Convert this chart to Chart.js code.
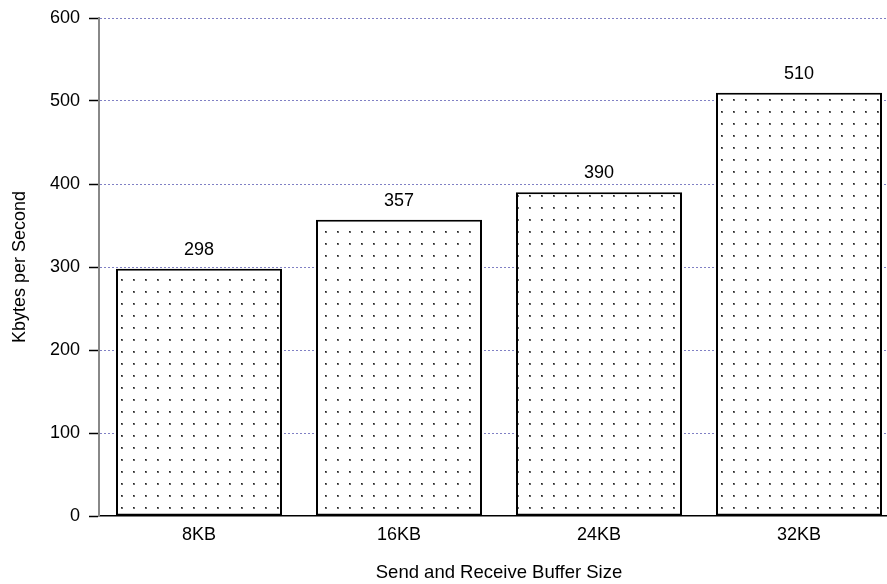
<!DOCTYPE html>
<html>
<head>
<meta charset="utf-8">
<script src="https://cdn.jsdelivr.net/npm/chart.js@4"></script>
<style>
  html,body{margin:0;padding:0;background:#fff;overflow:hidden}
  #wrap{width:887px;height:584px;overflow:hidden}
</style>
</head>
<body>
<div id="wrap"><canvas id="chart" width="900" height="584"></canvas></div>
<script>
/* ── Data ── */
const categories = ['8KB','16KB','24KB','32KB'];
const kbytesPerSec = [298,357,390,510];
const yTicks = [0,100,200,300,400,500,600];

const FONT = 'Arial, "Liberation Sans", sans-serif';

/* dotted fill like the old Excel pattern */
function dotPattern() {
  const c = document.createElement('canvas');
  c.width = 12; c.height = 12;
  const g = c.getContext('2d');
  g.fillStyle = '#fff'; g.fillRect(0,0,12,12);
  g.fillStyle = '#222'; g.fillRect(1,3,1,1);
  g.fillStyle = '#666'; g.fillRect(1,4,1,1); g.fillRect(2,3,1,2);
  return g.createPattern(c,'repeat');
}

/* value labels above each bar */
const valueLabels = {
  id:'valueLabels',
  afterDatasetsDraw(chart) {
    const ctx = chart.ctx, meta = chart.getDatasetMeta(0);
    ctx.save();
    ctx.font = '18px ' + FONT;
    ctx.fillStyle = '#000';
    ctx.textAlign = 'center';
    ctx.textBaseline = 'middle';
    meta.data.forEach((bar,i)=>ctx.fillText(String(kbytesPerSec[i]), bar.x, bar.y-19));
    ctx.restore();
  }
};

new Chart(document.getElementById('chart'), {
  type:'bar',
  data:{ labels:categories, datasets:[{
    data:kbytesPerSec,
    backgroundColor:dotPattern(),
    borderColor:'#000', borderWidth:2, borderSkipped:false,
    barPercentage:0.83, categoryPercentage:1
  }]},
  options:{
    responsive:false, animation:false,
    layout:{ padding:{ top:13, right:1, left:0, bottom:0 } },
    plugins:{ legend:{display:false}, tooltip:{enabled:false} },
    scales:{
      x:{
        grid:{ display:false },
        border:{ display:true, color:'#000', width:1.5 },
        ticks:{ color:'#000', font:{ family:FONT, size:18 }, padding:0 },
        title:{ display:true, text:'Send and Receive Buffer Size', color:'#000',
                font:{ family:FONT, size:18.5 }, padding:{ top:4, bottom:0 } },
        afterFit(s){ s.height = 68; }
      },
      y:{
        min:0, max:600,
        afterBuildTicks(s){ s.ticks = yTicks.map(v=>({value:v})); },
        grid:{ color:ctx=>ctx.tick && ctx.tick.value===0 ? 'rgba(0,0,0,0)' : '#8080c4',
               lineWidth:1, tickColor:'#000', tickLength:10, tickWidth:1.5, tickBorderDash:[] },
        border:{ display:true, color:'#888', width:2, dash:[2,2] },
        ticks:{ color:'#000', font:{ family:FONT, size:18, lineHeight:1 }, padding:9 },
        title:{ display:true, text:'Kbytes per Second', color:'#000',
                font:{ family:FONT, size:18 }, padding:{ top:9, bottom:0 } },
        afterFit(s){ s.width = 99; }
      }
    }
  },
  plugins:[valueLabels]
});
</script>
</body>
</html>
